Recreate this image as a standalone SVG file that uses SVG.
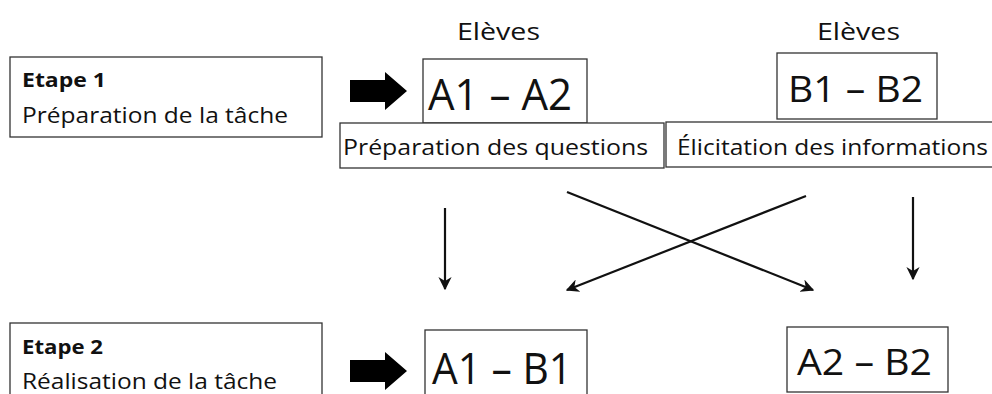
<svg xmlns="http://www.w3.org/2000/svg" width="992" height="394" viewBox="0 0 992 394">
<style>
.box{fill:#fff;stroke:#333;stroke-width:1.3}
.t{font-family:"Open Sans","Noto Sans",sans-serif;fill:#111}
.b{font-weight:bold}
.ln{stroke:#111;stroke-width:2.2;fill:none}
.blk{fill:#000}
</style>
<defs>
<marker id="ah" viewBox="0 0 10 10" refX="9" refY="5" markerWidth="6" markerHeight="6" orient="auto" markerUnits="strokeWidth">
<path d="M0,0 L10,5 L0,10 L3,5 Z" fill="#111"/>
</marker>
</defs>
<rect width="992" height="394" fill="#fff"/>
<g id="etape1">
<rect class="box" x="10" y="57" width="312" height="80"/>
<text class="t b" x="22" y="87" font-size="19" textLength="84" lengthAdjust="spacingAndGlyphs">Etape 1</text>
<text class="t" x="22" y="123" font-size="22" textLength="266" lengthAdjust="spacingAndGlyphs">Préparation de la tâche</text>
</g>
<g id="etape2">
<rect class="box" x="10" y="323" width="312" height="80"/>
<text class="t b" x="22" y="354" font-size="19" textLength="81" lengthAdjust="spacingAndGlyphs">Etape 2</text>
<text class="t" x="22" y="389" font-size="22" textLength="255" lengthAdjust="spacingAndGlyphs">Réalisation de la tâche</text>
</g>
<g id="eleves-a">
<text class="t" x="457" y="40" font-size="24" textLength="83" lengthAdjust="spacingAndGlyphs">Elèves</text>
</g>
<g id="eleves-b">
<text class="t" x="817" y="40" font-size="24" textLength="83" lengthAdjust="spacingAndGlyphs">Elèves</text>
</g>
<g id="a1a2">
<rect class="box" x="423" y="59" width="164" height="64"/>
<text class="t" x="428" y="110" font-size="43" textLength="144" lengthAdjust="spacingAndGlyphs">A1 – A2</text>
</g>
<g id="b1b2">
<rect class="box" x="777" y="53" width="160" height="66"/>
<text class="t" x="788" y="102" font-size="37" textLength="135" lengthAdjust="spacingAndGlyphs">B1 – B2</text>
</g>
<g id="prep-questions">
<rect class="box" x="340" y="123" width="324" height="45"/>
<text class="t" x="343" y="155" font-size="22" textLength="305" lengthAdjust="spacingAndGlyphs">Préparation des questions</text>
</g>
<g id="elicitation">
<rect class="box" x="666" y="122" width="340" height="45"/>
<text class="t" x="677" y="155" font-size="22" textLength="311" lengthAdjust="spacingAndGlyphs">Élicitation des informations</text>
</g>
<g id="a1b1">
<rect class="box" x="425" y="330" width="162" height="75"/>
<text class="t" x="432" y="384" font-size="43" textLength="140" lengthAdjust="spacingAndGlyphs">A1 – B1</text>
</g>
<g id="a2b2">
<rect class="box" x="787" y="327" width="161" height="65"/>
<text class="t" x="797" y="375" font-size="37" textLength="135" lengthAdjust="spacingAndGlyphs">A2 – B2</text>
</g>
<g id="connectors">
<polygon class="blk" points="350,80 385,80 385,72 407,91 385,110 385,102 350,102"/>
<polygon class="blk" points="350,360 385,360 385,352 407,371 385,390 385,382 350,382"/>
<line class="ln" x1="445" y1="208" x2="445" y2="289" marker-end="url(#ah)"/>
<line class="ln" x1="913" y1="197" x2="913" y2="279" marker-end="url(#ah)"/>
<line class="ln" x1="567" y1="192" x2="813" y2="290" marker-end="url(#ah)"/>
<line class="ln" x1="806" y1="196" x2="567" y2="290" marker-end="url(#ah)"/>
</g>
</svg>
